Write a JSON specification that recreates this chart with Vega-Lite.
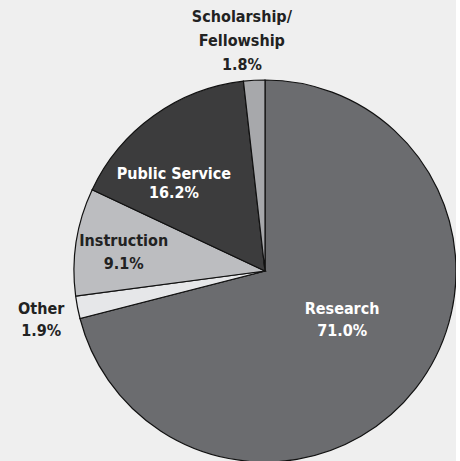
{
  "$schema": "https://vega.github.io/schema/vega-lite/v6.json",
  "description": "Pie chart of spending shares by function.",
  "width": 382,
  "height": 382,
  "autosize": "none",
  "padding": {"left": 74, "top": 80, "right": 0, "bottom": 0},
  "background": "#efefef",
  "config": {"view": {"stroke": null}},
  "data": {
    "values": [
      {"category": "Research", "label": "Research\n71.0%", "share": 71.0, "rank": 1},
      {"category": "Other", "label": "Other\n1.9%", "share": 1.9, "rank": 2},
      {"category": "Instruction", "label": "Instruction\n9.1%", "share": 9.1, "rank": 3},
      {"category": "Public Service", "label": "Public Service\n16.2%", "share": 16.2, "rank": 4},
      {"category": "Scholarship/Fellowship", "label": "Scholarship/\nFellowship\n1.8%", "share": 1.8, "rank": 5}
    ]
  },
  "transform": [
    {"stack": "share", "groupby": [], "sort": [{"field": "rank", "order": "ascending"}], "as": ["t0", "t1"]},
    {"calculate": "(datum.t0 + datum.t1) / 2", "as": "mid"}
  ],
  "layer": [
    {
      "mark": {"type": "arc", "radius": 191, "stroke": "#111111", "strokeWidth": 1.2},
      "encoding": {
        "theta": {"field": "t0", "type": "quantitative", "scale": {"domain": [0, 100]}},
        "theta2": {"field": "t1"},
        "color": {
          "field": "category",
          "type": "nominal",
          "scale": {
            "domain": ["Research", "Other", "Instruction", "Public Service", "Scholarship/Fellowship"],
            "range": ["#6b6c6f", "#e6e7e9", "#bcbdc0", "#3c3c3d", "#a7a8ab"]
          },
          "legend": null
        }
      }
    },
    {
      "transform": [{"filter": "datum.category === 'Research'"}],
      "mark": {"type": "text", "radius": 90, "dx": 6, "dy": -17, "font": "DejaVu Sans Condensed, Liberation Sans, sans-serif", "fontWeight": "bold", "fontSize": 16, "lineBreak": "\n", "lineHeight": 22, "color": "#ffffff"},
      "encoding": {
        "theta": {"field": "mid", "type": "quantitative", "scale": {"domain": [0, 100]}},
        "text": {"field": "label"}
      }
    },
    {
      "transform": [{"filter": "datum.category === 'Public Service'"}],
      "mark": {"type": "text", "radius": 122, "dx": -20, "dy": 2, "font": "DejaVu Sans Condensed, Liberation Sans, sans-serif", "fontWeight": "bold", "fontSize": 16, "lineBreak": "\n", "lineHeight": 19, "color": "#ffffff"},
      "encoding": {
        "theta": {"field": "mid", "type": "quantitative", "scale": {"domain": [0, 100]}},
        "text": {"field": "label"}
      }
    },
    {
      "transform": [{"filter": "datum.category === 'Instruction'"}],
      "mark": {"type": "text", "radius": 143, "dy": -8, "font": "DejaVu Sans Condensed, Liberation Sans, sans-serif", "fontWeight": "bold", "fontSize": 16, "lineBreak": "\n", "lineHeight": 23, "color": "#222222"},
      "encoding": {
        "theta": {"field": "mid", "type": "quantitative", "scale": {"domain": [0, 100]}},
        "text": {"field": "label"}
      }
    },
    {
      "transform": [{"filter": "datum.category === 'Other'"}],
      "mark": {"type": "text", "radius": 228, "dy": -5, "font": "DejaVu Sans Condensed, Liberation Sans, sans-serif", "fontWeight": "bold", "fontSize": 16, "lineBreak": "\n", "lineHeight": 22, "color": "#222222"},
      "encoding": {
        "theta": {"field": "mid", "type": "quantitative", "scale": {"domain": [0, 100]}},
        "text": {"field": "label"}
      }
    },
    {
      "transform": [{"filter": "datum.category === 'Scholarship/Fellowship'"}],
      "mark": {"type": "text", "radius": 232, "dx": -10, "dy": -22, "font": "DejaVu Sans Condensed, Liberation Sans, sans-serif", "fontWeight": "bold", "fontSize": 16, "lineBreak": "\n", "lineHeight": 24, "color": "#222222"},
      "encoding": {
        "theta": {"field": "mid", "type": "quantitative", "scale": {"domain": [0, 100]}},
        "text": {"field": "label"}
      }
    }
  ]
}
